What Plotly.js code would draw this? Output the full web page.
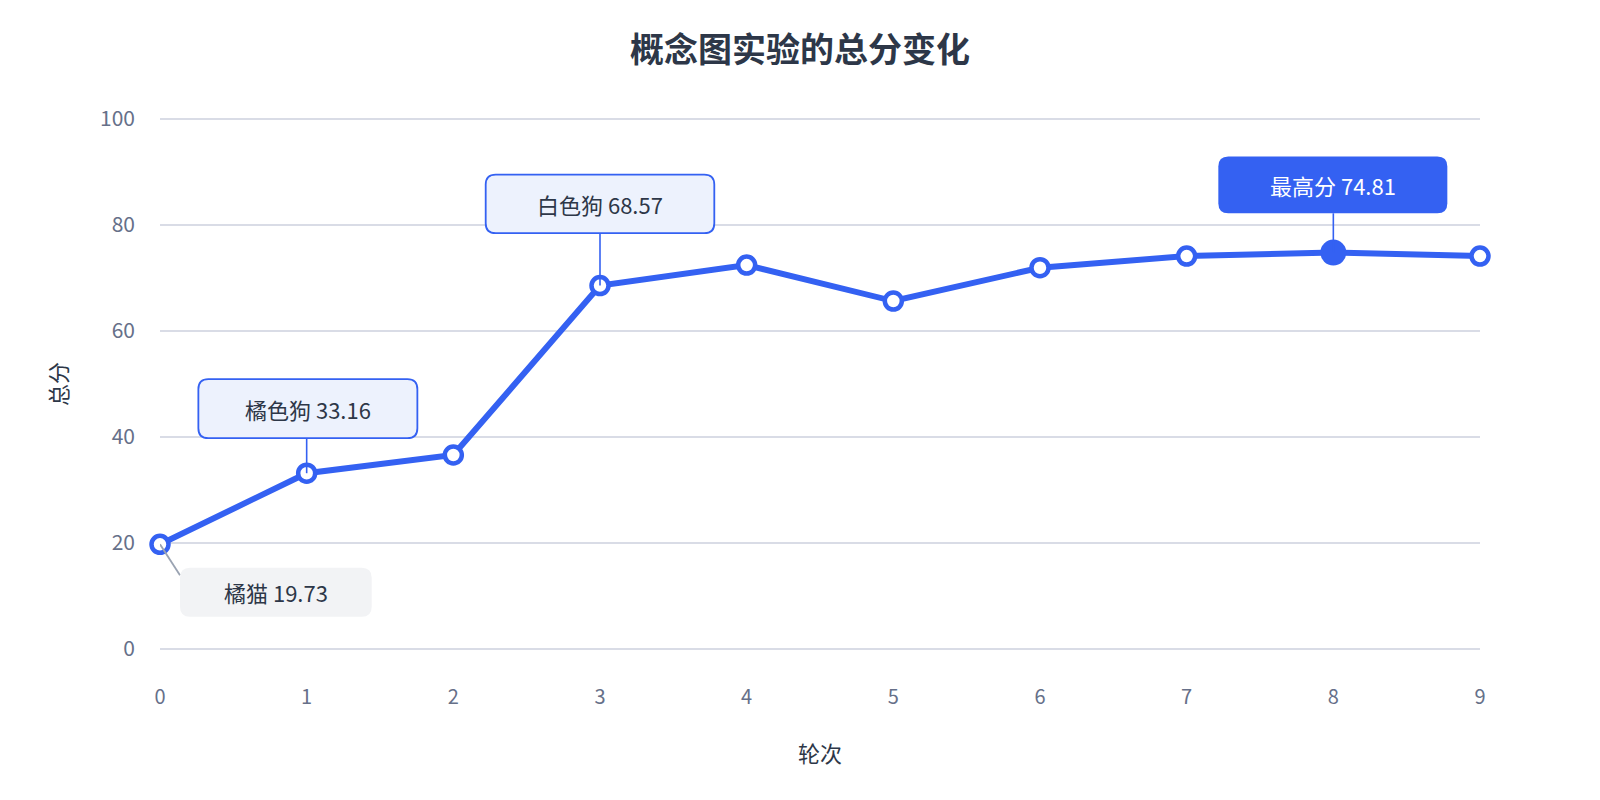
<!DOCTYPE html>
<html>
<head>
<meta charset="utf-8">
<script src="https://cdn.plot.ly/plotly-3.0.1.min.js"></script>
<style>
html,body{margin:0;padding:0;background:#fff;}
#chart{width:1600px;height:800px;}
</style>
</head>
<body>
<div id="chart"></div>
<script>
// ---- data ----
const rounds = [0, 1, 2, 3, 4, 5, 6, 7, 8, 9];
const scores = [19.73, 33.16, 36.6, 68.57, 72.45, 65.66, 71.95, 74.15, 74.81, 74.15];
const yTicks = [0, 20, 40, 60, 80, 100];
const calloutIdx = [0, 1, 3, 8];
const calloutNames = ['橘猫', '橘色狗', '白色狗', '最高分'];

// ---- styles ----
const BLUE = '#3461f2';
const TEXT = '#2d3748';
const TICK = '#667089';
const FONT = '"Noto Sans CJK SC", "Noto Sans", sans-serif';

// callout box geometry in pixels relative to the point (y up): left, right, top, bottom
const calloutStyle = [
  {box: [20, 211.7, -23.3, -72.3], fill: '#f2f3f5', border: null, text: TEXT, conn: [20, -31], connColor: '#9aa3b2'},
  {box: [-108.3, 110.7, 94, 35], fill: '#edf2fd', border: BLUE, text: TEXT, conn: [0, 35], connColor: BLUE},
  {box: [-114.3, 114.3, 111, 52.4], fill: '#edf2fd', border: BLUE, text: TEXT, conn: [0, 52.4], connColor: BLUE},
  {box: [-115, 114, 96, 39.3], fill: BLUE, border: null, text: '#ffffff', conn: [0, 39.3], connColor: BLUE}
];

function roundRect(l, r, t, b, rad) {
  // y up: t > b
  return 'M' + (l + rad) + ',' + t +
    ' L' + (r - rad) + ',' + t +
    ' Q' + r + ',' + t + ' ' + r + ',' + (t - rad) +
    ' L' + r + ',' + (b + rad) +
    ' Q' + r + ',' + b + ' ' + (r - rad) + ',' + b +
    ' L' + (l + rad) + ',' + b +
    ' Q' + l + ',' + b + ' ' + l + ',' + (b + rad) +
    ' L' + l + ',' + (t - rad) +
    ' Q' + l + ',' + t + ' ' + (l + rad) + ',' + t + ' Z';
}

const maxIdx = scores.indexOf(Math.max.apply(null, scores));
const markerSize = scores.map((v, i) => i === maxIdx ? 26 : 17);
const markerFill = scores.map((v, i) => i === maxIdx ? BLUE : '#ffffff');
const markerLineW = scores.map((v, i) => i === maxIdx ? 0 : 4.5);

const trace = {
  x: rounds,
  y: scores,
  type: 'scatter',
  mode: 'lines+markers',
  line: {color: BLUE, width: 6},
  marker: {size: markerSize, color: markerFill, opacity: 1, line: {color: BLUE, width: markerLineW}},
  cliponaxis: false,
  hoverinfo: 'skip'
};

const shapes = [];
const annotations = [];
calloutIdx.forEach((idx, k) => {
  const s = calloutStyle[k];
  const [l, r, t, b] = s.box;
  shapes.push({
    type: 'line', layer: 'above',
    xref: 'x', yref: 'y', xsizemode: 'pixel', ysizemode: 'pixel',
    xanchor: rounds[idx], yanchor: scores[idx],
    x0: 0, y0: 0, x1: s.conn[0], y1: s.conn[1],
    line: {color: s.connColor, width: k === 0 ? 1.8 : 1.6}
  });
  shapes.push({
    type: 'path', layer: 'above',
    xref: 'x', yref: 'y', xsizemode: 'pixel', ysizemode: 'pixel',
    xanchor: rounds[idx], yanchor: scores[idx],
    path: roundRect(l, r, t, b, 10),
    fillcolor: s.fill,
    line: s.border ? {color: s.border, width: 1.8} : {width: 0}
  });
  annotations.push({
    x: rounds[idx], y: scores[idx], xref: 'x', yref: 'y',
    xshift: (l + r) / 2, yshift: (t + b) / 2,
    text: calloutNames[k] + ' ' + scores[idx].toFixed(2),
    showarrow: false,
    font: {family: FONT, size: 22, color: s.text},
    xanchor: 'center', yanchor: 'middle'
  });
});

const layout = {
  width: 1600, height: 800,
  paper_bgcolor: '#ffffff', plot_bgcolor: '#ffffff',
  margin: {l: 160, r: 120, t: 117, b: 149, pad: 0},
  showlegend: false,
  hovermode: false,
  font: {family: FONT, color: TEXT},
  title: {
    text: '<b>概念图实验的总分变化</b>',
    x: 0.5, xanchor: 'center', y: 0.938, yanchor: 'middle', yref: 'container',
    font: {family: FONT, size: 34, color: TEXT}
  },
  xaxis: {
    range: [0, 9],
    tickvals: rounds,
    ticktext: rounds.map(String),
    showgrid: false, zeroline: false, showline: false,
    ticks: '', ticklabelstandoff: 32,
    tickfont: {family: FONT, size: 20, color: TICK},
    title: {text: '轮次', standoff: 37, font: {family: FONT, size: 22, color: TEXT}},
    automargin: false, fixedrange: true
  },
  yaxis: {
    range: [-0.4, 100.4],
    tickvals: yTicks,
    ticktext: yTicks.map(String),
    showgrid: true, gridcolor: '#d9dce6', gridwidth: 1.5,
    zeroline: false, showline: false,
    ticks: '', ticklabelstandoff: 24,
    tickfont: {family: FONT, size: 21, color: TICK},
    title: {text: '总分', standoff: 26, font: {family: FONT, size: 22, color: TEXT}},
    automargin: false, fixedrange: true
  },
  shapes: shapes,
  annotations: annotations
};

Plotly.newPlot('chart', [trace], layout, {displayModeBar: false, staticPlot: true});
</script>
</body>
</html>
